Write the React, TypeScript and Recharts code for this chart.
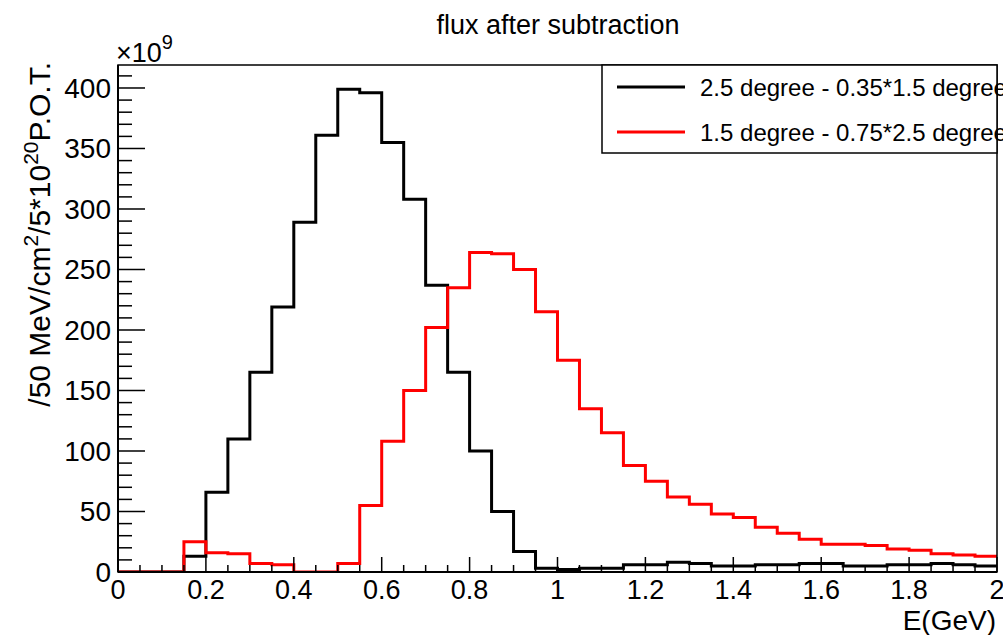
import { LineChart, Line, XAxis, YAxis } from "recharts";

// bin low edges (GeV), 50 MeV bins
const binLow = [
  0, 0.05, 0.1, 0.15, 0.2, 0.25, 0.3, 0.35, 0.4, 0.45,
  0.5, 0.55, 0.6, 0.65, 0.7, 0.75, 0.8, 0.85, 0.9, 0.95,
  1, 1.05, 1.1, 1.15, 1.2, 1.25, 1.3, 1.35, 1.4, 1.45,
  1.5, 1.55, 1.6, 1.65, 1.7, 1.75, 1.8, 1.85, 1.9, 1.95,
];
const xMax = 2;

// 2.5 degree - 0.35*1.5 degree  (x1e9)
const fluxBlack = [
  0, 0, 0, 13, 66, 110, 165, 219, 289, 361,
  399, 396, 355, 308, 237, 165, 100, 50, 17, 3,
  2, 3, 3, 6, 6, 8, 7, 5, 5, 6,
  6, 7, 7, 5, 5, 6, 6, 7, 6, 5,
];

// 1.5 degree - 0.75*2.5 degree  (x1e9)
const fluxRed = [
  0, 0, 0, 25, 16, 15, 7, 6, 0, 0,
  7, 55, 108, 150, 202, 235, 264, 263, 250, 215,
  175, 135, 115, 88, 75, 62, 56, 48, 45, 37,
  32, 27, 23, 23, 22, 19, 18, 15, 14, 13,
];

const seriesNames = ["2.5 degree - 0.35*1.5 degree", "1.5 degree - 0.75*2.5 degree"];
const seriesColors = ["#000000", "#ff0000"];

const xTicks = [...binLow, xMax];
const yTicks = [
  0, 10, 20, 30, 40, 50, 60, 70, 80, 90, 100, 110, 120, 130, 140, 150, 160, 170, 180, 190,
  200, 210, 220, 230, 240, 250, 260, 270, 280, 290, 300, 310, 320, 330, 340, 350, 360, 370,
  380, 390, 400, 410,
];
const yMax = 419;

const data = [
  ...binLow.map((x, i) => ({ x, black: fluxBlack[i], red: fluxRed[i] })),
  { x: xMax, black: fluxBlack[fluxBlack.length - 1], red: fluxRed[fluxRed.length - 1] },
];

const FONT = "'Liberation Sans', Arial, Helvetica, sans-serif";
const W = 1003;
const H = 635;
const PLOT = { left: 118, right: 997, top: 65, bottom: 572 };

function XTick(props: any) {
  const { x, y, payload } = props;
  const v = payload.value as number;
  const major = Math.abs(v * 5 - Math.round(v * 5)) < 1e-6;
  return (
    <g>
      <line x1={x} y1={y} x2={x} y2={y - (major ? 15 : 7)} stroke="#000" strokeWidth={1.5} />
      {major && (
        <text x={x} y={y + 27} textAnchor="middle" fontSize={27} fontFamily={FONT} fill="#000">
          {String(Number(v.toFixed(1)))}
        </text>
      )}
    </g>
  );
}

function YTick(props: any) {
  const { x, y, payload } = props;
  const v = payload.value as number;
  const major = v % 50 === 0;
  return (
    <g>
      <line x1={x} y1={y} x2={x + (major ? 27 : 14)} y2={y} stroke="#000" strokeWidth={1.5} />
      {major && (
        <text x={x - 7} y={y + 10} textAnchor="end" fontSize={28} fontFamily={FONT} fill="#000">
          {v}
        </text>
      )}
    </g>
  );
}

export default function App() {
  return (
    <div
      style={{
        position: "absolute",
        left: 0,
        top: 0,
        width: W,
        height: H,
        overflow: "hidden",
        background: "#fff",
      }}
    >
      <LineChart
        width={W}
        height={H}
        data={data}
        margin={{ top: PLOT.top, right: W - PLOT.right, bottom: H - PLOT.bottom - 30, left: PLOT.left - 60 }}
      >
        <XAxis
          dataKey="x"
          type="number"
          domain={[0, xMax]}
          ticks={xTicks}
          interval={0}
          height={30}
          tickSize={0}
          tickMargin={0}
          tickLine={false}
          tick={XTick}
          axisLine={{ stroke: "#000", strokeWidth: 2 }}
          allowDataOverflow
        />
        <YAxis
          type="number"
          domain={[0, yMax]}
          ticks={yTicks}
          interval={0}
          width={60}
          tickSize={0}
          tickMargin={0}
          tickLine={false}
          tick={YTick}
          axisLine={{ stroke: "#000", strokeWidth: 2 }}
          allowDataOverflow
        />
        <Line
          type="stepAfter"
          dataKey="black"
          name={seriesNames[0]}
          stroke={seriesColors[0]}
          strokeWidth={3}
          dot={false}
          isAnimationActive={false}
        />
        <Line
          type="stepAfter"
          dataKey="red"
          name={seriesNames[1]}
          stroke={seriesColors[1]}
          strokeWidth={3}
          dot={false}
          isAnimationActive={false}
        />
      </LineChart>
      <svg
        width={W}
        height={H}
        style={{ position: "absolute", left: 0, top: 0, pointerEvents: "none" }}
        fontFamily={FONT}
      >
        <rect
          x={PLOT.left}
          y={PLOT.top}
          width={PLOT.right - PLOT.left}
          height={PLOT.bottom - PLOT.top}
          fill="none"
          stroke="#000"
          strokeWidth={1.5}
        />
        <text x={558} y={34} textAnchor="middle" fontSize={27} fill="#000">
          flux after subtraction
        </text>
        <text x={116} y={62} fontSize={27} fill="#000">
          ×10<tspan dy={-13} fontSize={20}>9</tspan>
        </text>
        <text x={996} y={630} textAnchor="end" fontSize={28} fill="#000">
          E(GeV)
        </text>
        <text transform="translate(50,62) rotate(-90)" textAnchor="end" fontSize={30} fill="#000">
          /50 MeV/cm<tspan dy={-12} fontSize={21}>2</tspan>
          <tspan dy={12}>/5*10</tspan>
          <tspan dy={-12} fontSize={21}>20</tspan>
          <tspan dy={12}>P.O.T.</tspan>
        </text>
        <rect x={602} y={65} width={395} height={88} fill="#fff" stroke="#000" strokeWidth={1.5} />
        {seriesNames.map((name, i) => (
          <g key={name}>
            <line x1={617} x2={685} y1={87 + i * 45} y2={87 + i * 45} stroke={seriesColors[i]} strokeWidth={3} />
            <text x={700} y={96 + i * 45} fontSize={24} fill="#000">
              {name}
            </text>
          </g>
        ))}
      </svg>
    </div>
  );
}
